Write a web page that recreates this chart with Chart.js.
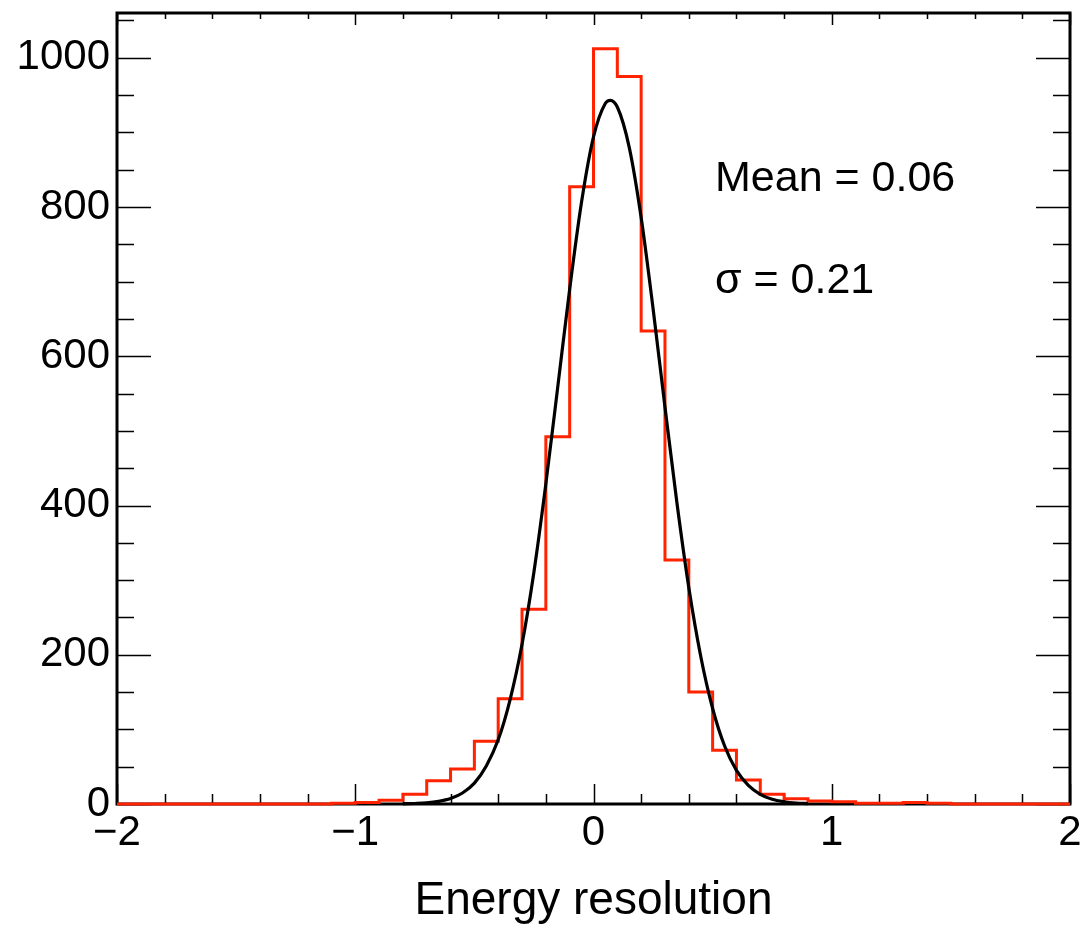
<!DOCTYPE html>
<html>
<head>
<meta charset="utf-8">
<script src="https://cdn.jsdelivr.net/npm/chart.js@4/dist/chart.umd.min.js"></script>
<style>
  html, body { margin: 0; padding: 0; background: #fff; }
  canvas { display: block; }
</style>
</head>
<body>
<canvas id="chart" width="1080" height="926"></canvas>
<script>
// histogram bin edges (41 edges -> 40 bins of width 0.1)
const binEdges = [
  -2.0, -1.9, -1.8, -1.7, -1.6, -1.5, -1.4, -1.3, -1.2, -1.1,
  -1.0, -0.9, -0.8, -0.7, -0.6, -0.5, -0.4, -0.3, -0.2, -0.1,
  0.0, 0.1, 0.2, 0.3, 0.4, 0.5, 0.6, 0.7, 0.8, 0.9,
  1.0, 1.1, 1.2, 1.3, 1.4, 1.5, 1.6, 1.7, 1.8, 1.9, 2.0
];
// entries per bin
const binCounts = [
  0, 0, 0, 0, 0, 0, 0, 0, 0, 1,
  2, 5, 13, 31, 47, 84, 141, 261, 492, 827,
  1012, 975, 634, 327, 150, 72, 32, 13, 7, 4,
  3, 1, 1, 2, 1, 0, 0, 0, 0, 0
];
// gaussian fit curve
const fitX = [
  -0.80, -0.75, -0.70, -0.65, -0.60, -0.55, -0.50, -0.45, -0.40, -0.35,
  -0.30, -0.25, -0.20, -0.15, -0.10, -0.05, 0.00, 0.05, 0.07, 0.10,
  0.15, 0.20, 0.25, 0.30, 0.35, 0.40, 0.45, 0.50, 0.55, 0.60,
  0.65, 0.70, 0.75, 0.80, 0.85, 0.90
];
const fitY = [
  0.3, 0.7, 1.5, 3.5, 7.3, 14.7, 28, 51, 86, 140,
  214, 311, 429, 559, 690, 807, 894, 939, 943, 934,
  880, 786, 664, 532, 404, 290, 198, 128, 78, 45,
  25, 13, 6.3, 3, 1.3, 0.5
];
const xTickLabels = [-2, -1, 0, 1, 2];
const yTickLabels = [0, 200, 400, 600, 800, 1000];
const statLines = ['Mean = 0.06', 'σ = 0.21'];

// 直方図の点 (stepped): 各ビンの値を左端の点に持たせ、最後に右端を追加
const histPoints = binCounts.map((c, i) => ({ x: binEdges[i], y: c }));
histPoints.push({ x: binEdges[binEdges.length - 1], y: binCounts[binCounts.length - 1] });
const fitPoints = fitX.map((x, i) => ({ x: x, y: fitY[i] }));

const FONT = '"Liberation Sans", Arial, Helvetica, sans-serif';

// 枠と目盛りを描く
const framePlugin = {
  id: 'frame',
  beforeDatasetsDraw(chart) {
    const { ctx, chartArea: a, scales } = chart;
    const xs = scales.x, ys = scales.y;
    ctx.save();
    ctx.strokeStyle = '#000';
    ctx.lineWidth = 1.5;
    // x ticks (bottom + top)
    for (let v = -2; v <= 2.0001; v += 0.2) {
      const px = Math.round(xs.getPixelForValue(v)) + 0.5;
      const major = Math.abs(v - Math.round(v)) < 1e-6;
      const len = major ? 20 : 10;
      ctx.beginPath();
      ctx.moveTo(px, a.bottom); ctx.lineTo(px, a.bottom - len);
      ctx.moveTo(px, a.top); ctx.lineTo(px, a.top + len * 0.6);
      ctx.stroke();
    }
    // y ticks (left + right)
    for (let v = 0; v <= 1050.1; v += 50) {
      const py = Math.round(ys.getPixelForValue(v)) + 0.5;
      const major = v % 200 === 0;
      const len = major ? 34 : 17;
      ctx.beginPath();
      ctx.moveTo(a.left, py); ctx.lineTo(a.left + len, py);
      ctx.moveTo(a.right, py); ctx.lineTo(a.right - len, py);
      ctx.stroke();
    }
    ctx.lineWidth = 3;
    ctx.strokeRect(a.left, a.top, a.right - a.left, a.bottom - a.top);
    ctx.restore();
  },
  afterDatasetsDraw(chart) {
    const { ctx, scales } = chart;
    ctx.save();
    ctx.fillStyle = '#000';
    ctx.font = '43px ' + FONT;
    ctx.textAlign = 'left';
    ctx.textBaseline = 'alphabetic';
    ctx.fillText(statLines[0], scales.x.getPixelForValue(0.51), scales.y.getPixelForValue(821));
    ctx.fillText(statLines[1], scales.x.getPixelForValue(0.51), scales.y.getPixelForValue(685));
    ctx.restore();
  }
};

const ctx = document.getElementById('chart').getContext('2d');
new Chart(ctx, {
  type: 'line',
  data: {
    datasets: [
      {
        label: 'fit',
        data: fitPoints,
        borderColor: '#000',
        borderWidth: 3.2,
        pointRadius: 0,
        cubicInterpolationMode: 'monotone',
        fill: false,
        order: 0,
        clip: false
      },
      {
        label: 'hist',
        data: histPoints,
        borderColor: 'rgb(255, 35, 0)',
        borderWidth: 3,
        pointRadius: 0,
        stepped: 'before',
        fill: false,
        order: 1,
        clip: false
      }
    ]
  },
  options: {
    responsive: false,
    animation: false,
    devicePixelRatio: 1,
    layout: { padding: { left: 0, right: 10, top: 13, bottom: 0 } },
    plugins: {
      legend: { display: false },
      tooltip: { enabled: false }
    },
    scales: {
      x: {
        type: 'linear',
        min: -2,
        max: 2,
        grid: { display: false, drawTicks: false },
        border: { display: false },
        ticks: {
          stepSize: 1,
          padding: 4,
          color: '#000',
          font: { family: FONT, size: 42 },
          callback: v => (v < 0 ? '\u2212' + Math.abs(v) : String(v))
        },
        title: {
          display: true,
          text: 'Energy resolution',
          color: '#000',
          font: { family: FONT, size: 46, lineHeight: 1.0 },
          padding: { top: 0, bottom: 2 }
        },
        afterFit(scale) {
          scale.height = 122;
          scale.paddingLeft = 0;
          scale.paddingRight = 0;
        }
      },
      y: {
        type: 'linear',
        min: 0,
        max: 1060,
        grid: { display: false, drawTicks: false },
        border: { display: false },
        ticks: {
          stepSize: 200,
          includeBounds: false,
          padding: 7,
          color: '#000',
          font: { family: FONT, size: 42 },
          callback: v => String(v)
        },
        afterFit(scale) {
          scale.width = 117;
          scale.paddingTop = 0;
          scale.paddingBottom = 0;
        }
      }
    }
  },
  plugins: [framePlugin]
});
</script>
</body>
</html>
